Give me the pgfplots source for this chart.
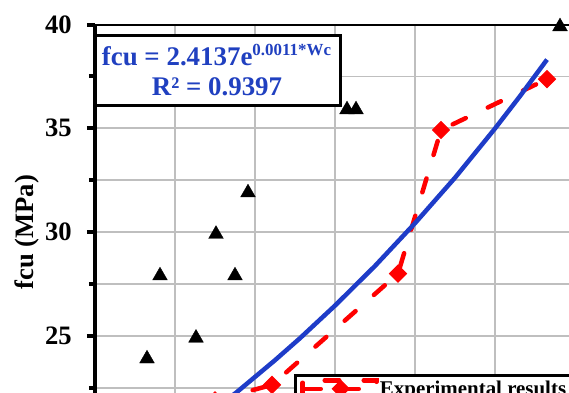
\documentclass[border=0pt]{standalone}
\usepackage{pgfplots}
\pgfplotsset{compat=1.18}
\usepackage{fontspec}
\setmainfont{Liberation Serif}
\definecolor{fitblue}{RGB}{30,60,200}
\definecolor{eqblue}{RGB}{32,64,192}
\definecolor{gridgray}{RGB}{191,191,191}
\begin{document}
\begin{tikzpicture}[x=1bp,y=1bp]
\begin{axis}[
  name=ax,
  scale only axis, width=480bp, height=415.2bp,
  xmin=1500, xmax=2100, ymin=20, ymax=40,
  xtick={1500,1600,...,2100}, xticklabels={},
  ytick={20,25,...,40}, minor ytick={22.5,27.5,32.5,37.5},
  grid=both,
  grid style={line width=1.8bp, draw=gridgray},
  minor grid style={line width=1.8bp, draw=gridgray},
  separate axis lines,
  x axis line style={line width=2bp, black},
  y axis line style={line width=4.5bp, black},
  xtick pos=left, ytick pos=left,
  tick align=outside,
  major tick length=8bp, minor tick length=6bp,
  tick style={line width=4bp, black},
  /pgf/number format/assume math mode=true,
  yticklabel style={font=\fontsize{26.7}{30}\selectfont\bfseries, inner sep=0pt, anchor=east, xshift=-15bp},
  ylabel={fcu (MPa)},
  ylabel style={font=\fontsize{26.7}{30}\selectfont\bfseries, at={(axis description cs:0,0.5)}, anchor=center, yshift=68.5bp},
  legend style={at={(0.4156,0.1594)}, anchor=north west, draw=black, line width=3bp, fill=white,
    font=\fontsize{21}{25}\selectfont\bfseries, inner xsep=4.5bp, inner ysep=3bp, nodes={inner sep=1bp}},
  legend cell align=left,
  legend image code/.code={\path[use as bounding box] (0bp,-8.5bp) rectangle (74bp,8.5bp);
    \draw[#1, solid, mark=none, line cap=round] (2.5bp,0bp) -- (18bp,0bp);
    \draw[#1, solid, mark=none, line cap=round] (40bp,0bp) -- (56bp,0bp);
    \draw[#1] plot coordinates {(38bp,0bp)};},
]
\addplot[only marks, mark=triangle*, mark size=8.5bp, mark options={black, yshift=-2.1bp}, forget plot] coordinates {
  (1565,24) (1581.25,28) (1626.25,25) (1651.25,30) (1675,28) (1691.25,32) (1815,36) (1826.25,36) (2081.25,40)
};
\addplot[red, line width=4.5bp, line cap=round, dash pattern=on 14.5bp off 24.5bp,
  mark=square*, mark size=6bp, mark options={solid, rotate=45, fill=red, draw=red, line width=1bp}] coordinates {
  (1650,21.9) (1721.25,22.64) (1878.75,28) (1932.5,34.92) (2065,37.37)
};
\addlegendentry{Experimental results}
\addplot[fitblue, line width=4.5bp, no markers, forget plot] coordinates {
  (1631.25,20.91) (1677.5,22.30) (1725,23.83) (1756.25,24.89) (1800,26.46) (1850,28.37)
  (1900,30.43) (1950,32.62) (2000,34.99) (2031.25,36.55) (2065,38.31)
};
\end{axis}
\draw[line width=3bp, fill=white] (ax.north west) ++(0,-10.5) rectangle ++(245.5,-70);
\path (ax.north west) ++(121.5,-40.5) node[anchor=base, text=eqblue, font=\fontsize{27}{30}\selectfont\bfseries, inner sep=0pt]
  {fcu = 2.4137e\raisebox{10bp}{\fontsize{17}{17}\selectfont 0.0011*Wc}};
\path (ax.north west) ++(122,-70.5) node[anchor=base, text=eqblue, font=\fontsize{27}{30}\selectfont\bfseries, inner sep=0pt]
  {R² = 0.9397};
\pgfresetboundingbox
\path[use as bounding box] (ax.north west) ++(-95,24.5) rectangle ++(569,-392);
\end{tikzpicture}
\end{document}
